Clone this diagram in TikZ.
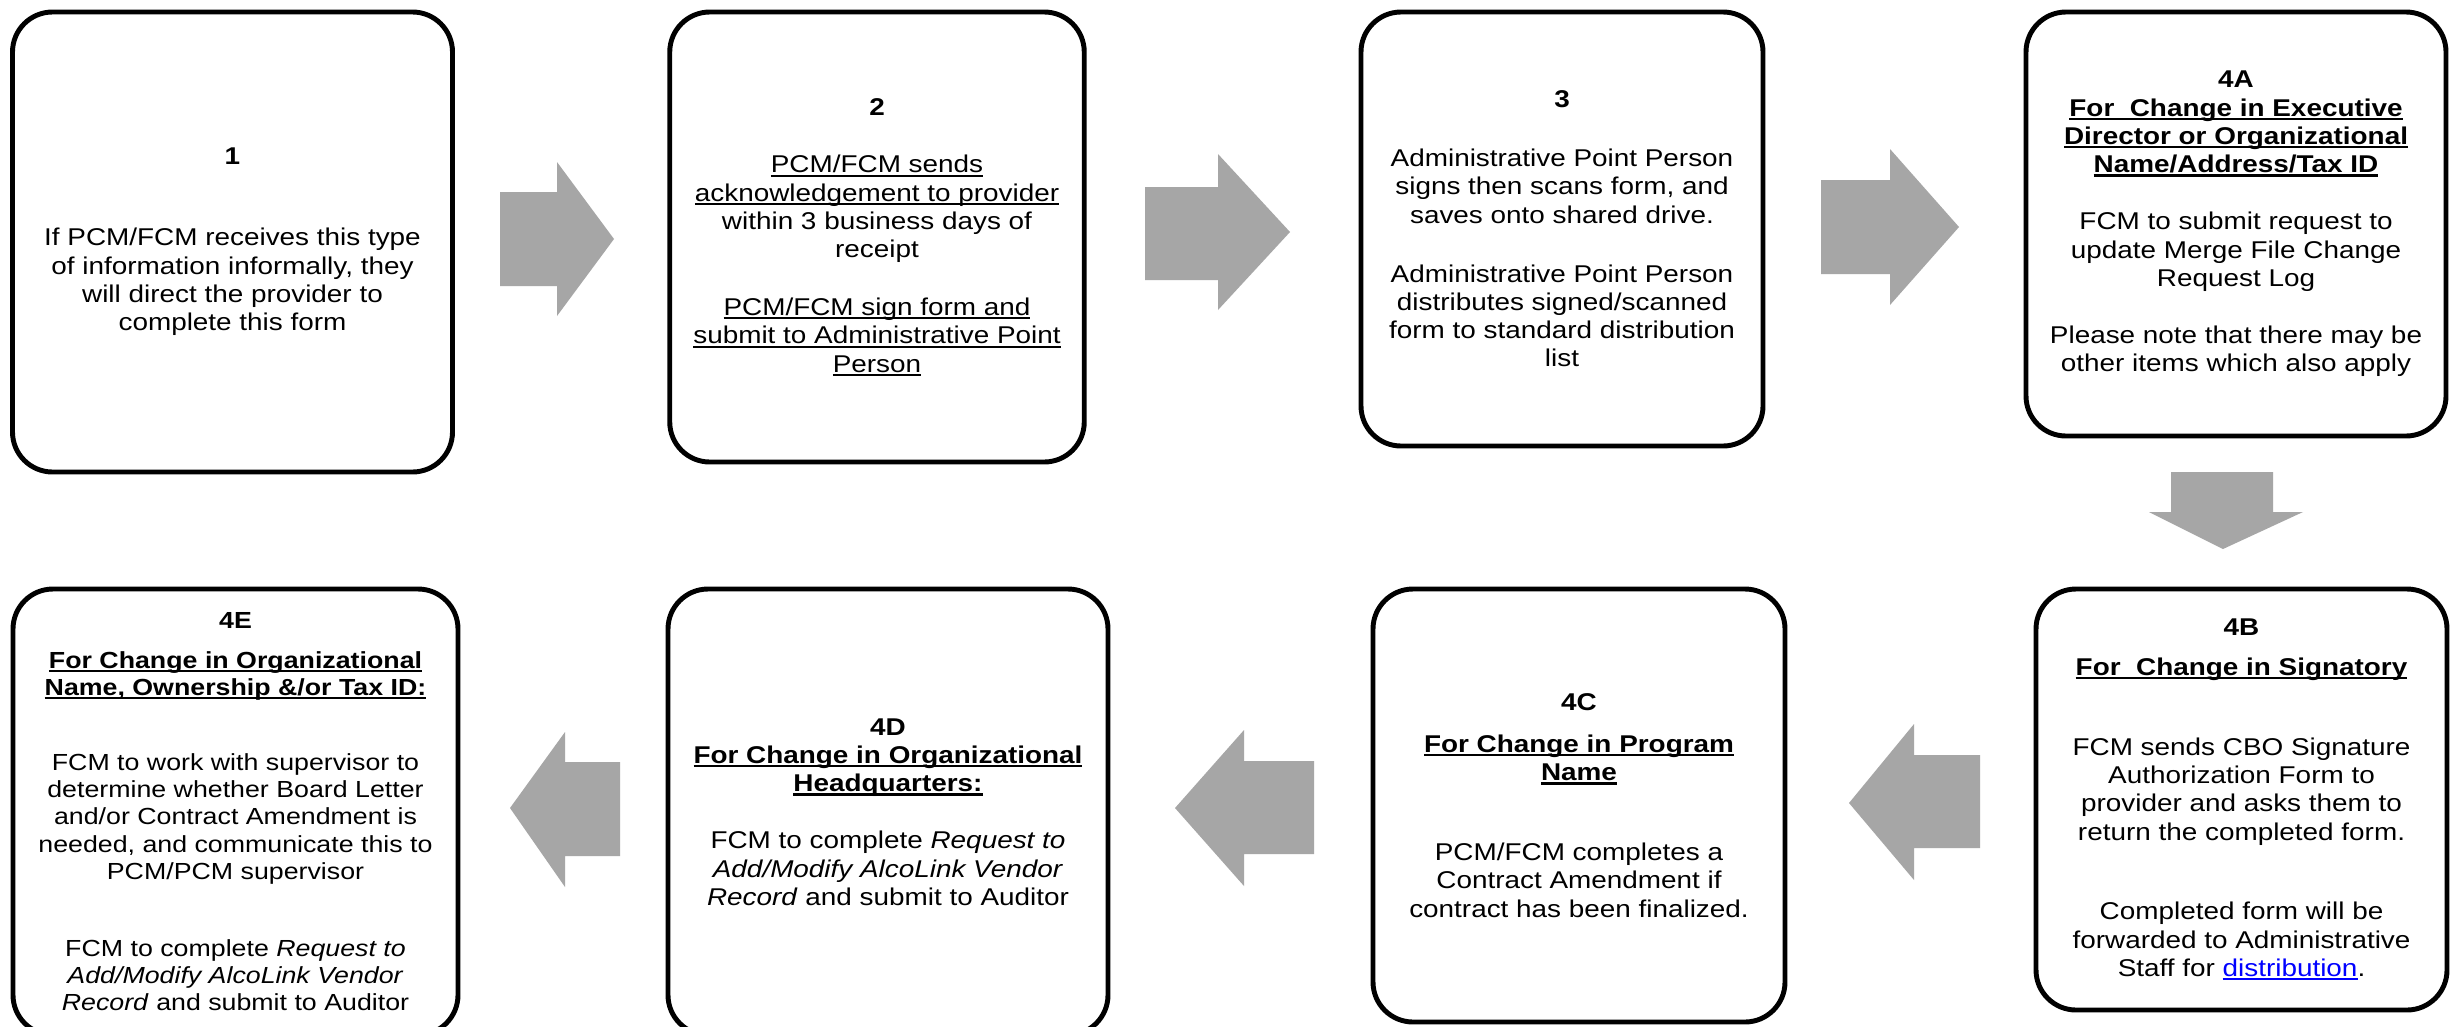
\documentclass[tikz,border=0pt]{standalone}
\usepackage{fontspec}
\setmainfont{Liberation Sans}[FakeStretch=1.15]
\usepackage{xcolor}
\definecolor{arrowgray}{RGB}{166,166,166}
\definecolor{linkblue}{RGB}{0,0,255}
\newsavebox\ulbox
\newcommand\hdul[1]{\sbox\ulbox{#1}\rlap{\rule[-1.1pt]{\wd\ulbox}{0.6pt}}\usebox\ulbox}
\newcommand\boxfont{\fontsize{6.9}{8.05}\selectfont}
\newcommand\smallboxfont{\fontsize{6.62}{7.75}\selectfont}

\begin{document}
\begin{tikzpicture}[x=0.1mm,y=-0.1mm,
    procbox/.style={draw,line width=1.4pt,rounded corners=4mm,
      align=center,inner sep=0pt,font=\boxfont}]
        \clip (0,0) rectangle (2454,1026);
        \fill[white] (0,0) rectangle (2454,1026);

        %------------------
        % 上段
        %------------------

        \node[procbox,minimum width=44mm,minimum height=46mm] (s1) at (232.5,242)
          {\textbf{1}\\[15pt]
           If PCM/FCM receives this type\\
           of information informally, they\\
           will direct the provider to\\
           complete this form};

        \node[procbox,minimum width=41.45mm,minimum height=45mm] (s2) at (877,237)
          {\textbf{2}\\[8.4pt]
           \hdul{PCM/FCM sends}\\
           \hdul{acknowledgement to provider}\\
           within 3 business days of\\
           receipt\\[8.4pt]
           \hdul{PCM/FCM sign form and}\\
           \hdul{submit to Administrative Point}\\
           \hdul{Person}};

        \node[procbox,minimum width=40.2mm,minimum height=43.4mm] (s3) at (1562,229)
          {\textbf{3}\\[8.7pt]
           Administrative Point Person\\
           signs then scans form, and\\
           saves onto shared drive.\\[8.7pt]
           Administrative Point Person\\
           distributes signed/scanned\\
           form to standard distribution\\
           list};

        \node[procbox,minimum width=42mm,minimum height=42.4mm] (s4a) at (2236,224)
          {\textbf{4A}\\
           \hdul{\textbf{For~ Change in Executive}}\\
           \hdul{\textbf{Director or Organizational}}\\
           \hdul{\textbf{Name/Address/Tax ID}}\\[8.2pt]
           FCM to submit request to\\
           update Merge File Change\\
           Request Log\\[8.2pt]
           Please note that there may be\\
           other items which also apply};

        %------------------
        % 下段
        %------------------

        \node[procbox,minimum width=41.1mm,minimum height=42.1mm] (s4b) at (2241.5,799.5)
          {\textbf{4B}\\[3.3pt]
           \hdul{\textbf{For~ Change in Signatory}}\\[14.7pt]
           FCM sends CBO Signature\\
           Authorization Form to\\
           provider and asks them to\\
           return the completed form.\\[14.7pt]
           Completed form will be\\
           forwarded to Administrative\\
           Staff for {\color{linkblue}\hdul{distribution}}.};

        \node[procbox,minimum width=41.2mm,minimum height=43.3mm] (s4c) at (1579,805.5)
          {\textbf{4C}\\[3.9pt]
           \hdul{\textbf{For Change in Program}}\\
           \hdul{\textbf{Name}}\\[14.7pt]
           PCM/FCM completes a\\
           Contract Amendment if\\
           contract has been finalized.};

        \node[procbox,minimum width=44mm,minimum height=44.6mm] (s4d) at (888,812)
          {\textbf{4D}\\
           \hdul{\textbf{For Change in Organizational}}\\
           \hdul{\textbf{Headquarters:}}\\[8.2pt]
           FCM to complete \textit{Request to}\\
           \textit{Add/Modify AlcoLink Vendor}\\
           \textit{Record} and submit to Auditor};

        \node[procbox,font=\smallboxfont,minimum width=44.5mm,minimum height=44.6mm] (s4e) at (235.5,812)
          {\textbf{4E}\\[3.4pt]
           \hdul{\textbf{For Change in Organizational}}\\
           \hdul{\textbf{Name, Ownership \&/or Tax ID:}}\\[13.6pt]
           FCM to work with supervisor to\\
           determine whether Board Letter\\
           and/or Contract Amendment is\\
           needed, and communicate this to\\
           PCM/PCM supervisor\\[14.2pt]
           FCM to complete \textit{Request to}\\
           \textit{Add/Modify AlcoLink Vendor}\\
           \textit{Record} and submit to Auditor};

        %------------------
        % 矢印
        %------------------

        % 右向き
        \fill[arrowgray] (500,192) -- (557,192) -- (557,162) -- (614,239)
          -- (557,316) -- (557,286) -- (500,286) -- cycle;
        \fill[arrowgray] (1145,187) -- (1218,187) -- (1218,154) -- (1290,232)
          -- (1218,310) -- (1218,280) -- (1145,280) -- cycle;
        \fill[arrowgray] (1821,180) -- (1890,180) -- (1890,149) -- (1959,227)
          -- (1890,305) -- (1890,274) -- (1821,274) -- cycle;

        % 下向き
        \fill[arrowgray] (2171,472) -- (2273,472) -- (2273,512) -- (2303,512)
          -- (2223,549) -- (2149,512) -- (2171,512) -- cycle;

        % 左向き
        \fill[arrowgray] (1980,755) -- (1914,755) -- (1914,724) -- (1849,803)
          -- (1914,880) -- (1914,848) -- (1980,848) -- cycle;
        \fill[arrowgray] (1314,761) -- (1244,761) -- (1244,730) -- (1175,808)
          -- (1244,886) -- (1244,854) -- (1314,854) -- cycle;
        \fill[arrowgray] (620,762) -- (565,762) -- (565,732) -- (510,808)
          -- (565,887) -- (565,856) -- (620,856) -- cycle;
      \end{tikzpicture}
\end{document}
